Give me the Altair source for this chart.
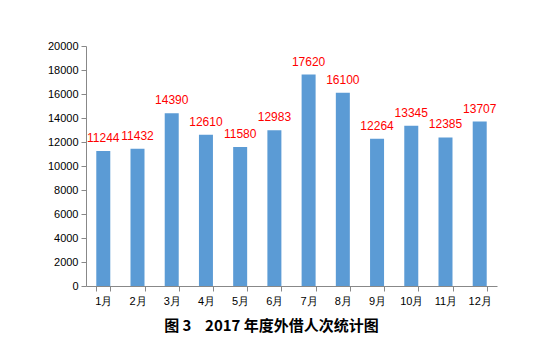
import altair as alt
import pandas as pd

months = ["1月", "2月", "3月", "4月", "5月", "6月", "7月", "8月", "9月", "10月", "11月", "12月"]
values = [11244, 11432, 14390, 12610, 11580, 12983, 17620, 16100, 12264, 13345, 12385, 13707]
y_ticks = [0, 2000, 4000, 6000, 8000, 10000, 12000, 14000, 16000, 18000, 20000]

df = pd.DataFrame({"month": months, "value": values})

x_enc = alt.X("month:N", sort=months, title=None,
              scale=alt.Scale(paddingInner=0.59, paddingOuter=0.3),
              axis=alt.Axis(labelAngle=0, tickBand="extent", domainColor="#888888",
                            tickColor="#888888", tickSize=5, labelPadding=4,
                            labelFont="Liberation Sans", labelFontSize=11, labelColor="#000000",
                            grid=False))
y_enc = alt.Y("value:Q", title=None,
              scale=alt.Scale(domain=[0, 20000], nice=False),
              axis=alt.Axis(values=y_ticks, tickCount=11, format="d", labelOverlap=False,
                            domainColor="#888888", tickColor="#888888",
                            tickSize=5, labelPadding=3, labelFont="Liberation Sans",
                            labelFontSize=11, labelColor="#000000", grid=False))

bars = alt.Chart(df).mark_bar(color="#5B9BD5", width=14).encode(x=x_enc, y=y_enc)
labels = alt.Chart(df).mark_text(color="#FF0000", font="Liberation Sans", fontSize=12,
                                 baseline="bottom", dy=-6).encode(
    x=x_enc, y=y_enc, text="value:Q")

chart = (bars + labels).properties(
    width=411, height=240,
    autosize=alt.AutoSizeParams(type="none"),
    padding={"left": 78, "top": 38, "right": 30, "bottom": 64},
    title=alt.TitleParams("图 3\u00a0\u00a0\u00a0\u00a02017 年度外借人次统计图", orient="bottom",
                          anchor="middle", font="Noto Sans CJK SC", fontSize=15,
                          fontWeight="bold", color="#000000", offset=13, dx=-20),
).configure_view(stroke=None)

chart.save("out.html", embed_options={"renderer": "svg", "actions": False})
